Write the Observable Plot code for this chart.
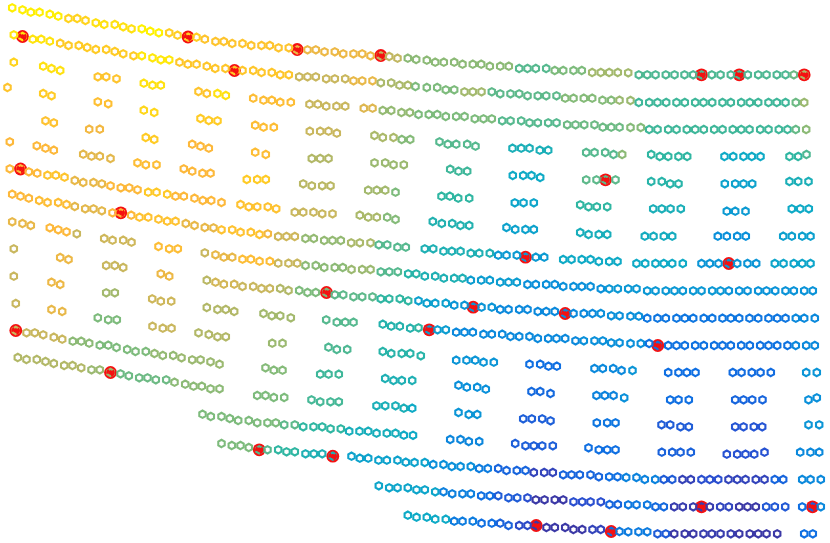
<!DOCTYPE html>
<html><head><meta charset="utf-8">
<script src="https://cdn.jsdelivr.net/npm/d3@7"></script>
<script src="https://cdn.jsdelivr.net/npm/@observablehq/plot@0.6"></script>
<style>html,body{margin:0;padding:0;background:#fff}svg{display:block}</style>
</head><body><div id="chart"></div>
<script>
// each chunk: [colour value, x,y, x,y, ...]
const rowA=[
[0.1,11.7,7.3,22,9.3,30.3,11.7,39,11.7,49.3,13.7,57.7,15.7],[0.9,68,18,76.7,18,85,20],[0.5,95.3,22.3,103.7,24,114.3,24,122.7,26.3,131,28.3],[0,141.3,28.3,149.7,30.7,158.3,32.3],[1.1,168.7,32.3,177,34.7,187.7,36.7,196,36.7],[1.5,204.3,38.7,215,41,223.3,41,231.7,43,242,43,250.7,45,261,45,269.3,45,278,47.3,288.3,47.3],[2.3,296.7,49.3,307,49.3,315.3,49.3,324,51.3,334.3,51.3,342.7,53.3,353,53.3,361.7,53.3,370,55.3],[3.1,380.3,55.3,388.7,56,397,57.7],[3.8,407.3,57.7,415.7,59,426.3,59.7,434.7,61.7,443.3,61.7,453.7,61.7,462,63.7,472.3,63.7,480.7,63.7,489.3,65.7,499.7,65.7,508.3,65.7],[4.5,518.7,68,527,68,535.3,68,545.7,68],[4,554.3,70,562.7,70,573,70,581.3,70],[3.5,591.7,72,600.3,72,608.7,72,617.3,72,627.7,72.3],[4.6,638.3,74.3,646.7,74.3,655,74.3,665.3,74.3,674,74.3,684,74.3,692.7,74.3,701,74.3,711.3,74.3,720,74.3,730.3,74.3,738.7,74.3,747.3,74.3,757.7,74.3,766,74.3,776.3,74.3,785,74.3],[4.2,793.3,74.3],[3.3,803.7,74.3]];
const rowB=[
[0.4,13.3,34.3,22,36,32.3,38.7,40.7,38.7,49.3,40.7],[1.2,59.7,42.7,68,45,78.3,45,86.7,47,95.3,49,105.7,49,114.3,51,122.7,53.3,133,55.3],[0.3,141.3,55.3,152,57.3,160.3,59.3,168.7,59.3],[1.4,179,61.7,187.3,63.7,196,63.7,206.3,65.7,214.7,68,225,68,234,70,242,70,252.7,70,261,72,271.3,72,279.7,74.3,288.3,74.3],[3,298.7,76.3,307,76.3,315.3,76.3,325.7,78.3,334.3,78.3,344.7,78.3],[2.4,353,80.3,361.7,80.3,372,80.3],[3.4,380.3,82.3,390.7,82.3,399,84.7,407.3,84.7],[4,415,86,426.3,87,436.7,87,445.3,89.3,453.7,89.3],[3.5,464,91.3,472.3,91.3,481,91.3],[4.4,491.3,91.3,499.7,93.3,510,93.3,518.7,93.3,527,95.3,537.3,95.3,545.7,95.3,556,95.3],[3.9,564.7,97.7,573,97.7,583.3,97.7,591.7,97.7,602,99.7,610.7,99.7],[3.6,619,99.7,630,100],[4.8,638.3,102,648.7,102,657,102,665.7,102,676,102,684.3,102,694.7,102,703,102,711.7,102,722,102,730.3,102,740.7,102,749.3,102,757.7,102,768,102,776.3,102,785,102],[4.2,795.3,102],[3.6,803.7,102]];
const rowC=[
[0.9,13.3,61.7],[0.5,42.7,65.7,51,68,59.7,70],[1.5,97.3,76.3,105.7,76.3,116,78.3],[0.5,143.3,82.7,152,84.7,160.3,84.7],[1.5,198,91,206.3,93],[0.5,217,93,225.3,95],[1.8,252.7,97.7,263,99.7,271.3,99.7,279.7,101.7,290.3,101.7],[3,309,103.7,317.3,103.7,325.7,105.7,336,105.7,344.7,105.7],[2.6,363.3,107.7,372,107.7],[3.7,382.3,110,390.7,110,401,112,409.3,112],[4,418,114,428.3,114,436.7,114,445.3,116,455.7,116,464,116,474.3,118.3,483,118.3,491.3,118.3],[4.5,501.7,120.3,510,120.3,520.7,120.3,529,122.3,537.3,122.3,547.7,122.3,556,122.3],[4.2,566.7,124.3,575,124.3,583.7,124.3,594,124.3,602.3,126.7,610.7,126.7,619,126.7],[3.9,630,127,640.3,127],[4.8,648.7,129,657,129,667.7,129,676,129,686.3,129,694.7,129,703.3,129,713.7,129,722,129,732.3,129,740.7,129,749,129,759.7,129,768,129,778.3,129,787,129],[4.3,795.3,129],[3.8,805.7,129]];
const rowD=[
[1.5,7,87],[1.2,42.7,93,51,95.3],[1.7,97.3,101.3,107.7,103.3],[0.8,143.3,109.7,153.7,112],[1.2,200,118,208.3,120,217,120.3],[1.8,254.7,124.7,263,126.7,273.3,126.7],[3,309.3,130.7,319.7,130.7,328,130.7,336.3,132.7],[3.4,374,135,382.3,137,393,137],[3.9,401.3,139,409.7,139],[4.5,439,141.3,447.3,143.7,455.7,143.7,466.7,143.7,475,145.7],[5.6,512,147.7,520.7,147.7,529,147.7,539.3,149.7,547.7,149.7],[4.5,585.7,152,594,152,604.7,152,613,154],[3.8,621.7,154],[5,650.7,154,659.3,156,667.7,156,678,156,686.7,156],[6,724,156,732.7,156,743,156,751.3,156,760,156],[5,789,156,797.7,156],[4.6,806,154]];
const rowE=[
[1.6,45,120.3,53.3,122.3],[2.2,88.7,128.7,99.3,128.7],[1.2,145.3,137,153.7,139],[2,191.7,143.7,200,145.7,208.3,147.7],[1.8,254.7,151.7,265.3,154],[3.3,311.3,158,319.7,158,328,158],[3.6,374,162.3,384.7,162.3,393,164.3,403.3,164.3],[4.8,449.7,168.7,458,170.7,466.7,170.7],[6,512.3,175,522.7,175,531,175,539.7,177],[4.4,585.7,179.3,596,179.3,605,179.3,615,179.3],[5.2,650.7,181,661.3,181,669.7,183.3,678,183.3],[6.3,724.3,183.3,734.7,183.3,743,183.3,751.7,183.3],[5.6,789,181,797.7,181,808,181]];
const rowF=[
[2,9.3,141.3,36.3,145.3,45,147.7,53.3,149.7],[2.5,82.7,153.7,91,155.7,99.3,155.7,110,158],[1.8,137,162.3,145.3,164.3,156,164.3],[2,183.3,168.3,191.7,170.7,202,172.7,210,172.7],[1.2,246.3,179,256.7,179,265.3,179],[3.2,302.7,183.3,311.3,185.3,321.7,185.3,330,185.3],[3.5,367.7,189.7,376.3,189.7,384.7,189.7],[4,395,191.7],[5,441,195.7,449.3,195.7,457.7,197.7,468.7,197.7],[6.2,514.3,202.3,523,202.3,533.3,202.3],[5,579.7,204.3,588,206.3,596.3,206.3,606.7,206.3],[5.6,652.7,208.3,661.3,208.3,670,208.3,680.3,208.3],[6.6,726.3,210.7,734.7,210.7,745,210.7],[6,791.3,208.3,799.7,208.3,808.3,208.3]];
const rowG=[
[2,9.3,168.3,20,168.3,28.3,171.3,36.7,172.7],[1.5,47,174.7,55.3,174.7,64,176.7],[2.4,74.3,180,82.7,182,93,182,101.3,183.3],[2,110,185.3,120.3,187.3,128.7,187.3,137,189.3],[1.3,147.7,191.7,156,191.7,166.7,193.7],[2,175,195.7,183.3,195.7,194,197.7,202.3,200,210.7,200,221,202],[1.6,240,204,248.3,206.3,256.7,206.3,267.3,206.3,275.7,208.3],[3,294.3,211.7,302.7,211.7,313,211.7,321.7,213.3,332,213.3],[3.4,359.3,214.7,367.7,216.7,376.3,216.7],[3.9,386.7,216.7,395,219],[5.4,432.3,221,441.3,223,451.7,223,460,225,468.7,225],[6.3,506,227,514.7,229,525,229,533.3,229],[5.7,579.7,232,588,234,598.3,234,606.7,234],[5.8,644.3,235.7,653,235.7,663.3,235.7,671.7,235.7],[7,717.3,235.7,726.3,235.7,736.7,235.7,745.3,235.7],[6.4,782.7,235.7,791.3,235.7,801.7,235.7,810,235.7]];
const rowH=[
[2,11.7,193.7,20,195.7,28.3,197.7],[1.8,38.7,200,47,202,57.7,202,66,204],[2.5,74.3,206,84.7,208.3,93,208.3,101.3,210.3],[2,112,212.3,120.3,212.3,130.7,214.7],[1.6,139,216.7,147.7,216.7,158,218.7,166.7,220.7,175,220.7],[2.4,185.3,223,194,225,204.3,227,213,227.3],[1.6,221,229.3,231.7,229.3,240,231.7,250.3,231.7,259,234],[2.2,267.3,233.3],[2.9,277.7,236,286,236,294.3,236],[3.7,305,238,313.3,238,323.7,240,332,240,340.3,240],[3.4,350.7,242.3,359.3,242.3,370,242.3],[4.5,378.3,244.3,386.7,244.3,397,246.7,405.3,246.7],[5.5,424.3,248.3,432.7,248.3,443,250.7,451.3,250.7,460,250.7,470.3,252.7,478.7,252.7,489.3,252.7],[6.6,497.7,254.7,506,254.7,516.3,254.7,525,256.7,535.3,256.7,543.7,256.7],[6,562.7,259,571,259,581.3,259,590,259,598.3,261,608.7,261,617,261],[6,636,263,644.7,263,655,263,663.3,263,671.7,263,682.3,263],[6.8,701,263,709.3,263,718,263,728.3,263,736.7,263,747,263,755.7,263],[6.2,774.3,263,783,263,793.3,263,801.7,263,810,263]];
const rowI=[
[2.4,11.7,221.3,22,223,30.3,225],[2,49.3,227.3,57.7,229.3,66,231.3],[3,76.3,233.3],[2.9,103.7,238,112,239.7,122.7,239.7,131,241.7],[1.8,158,246,168.7,248.3,177.3,248.3],[3,204.3,252.3],[2.4,215,254.3,223.3,256.7,231.7,256.7],[1.8,242,258.7,250.3,258.7,259,260.7,269.3,260.7],[3,277.7,262.7,288,262.7,296.7,262.7],[3.8,305,265,315.3,265,323.7,267,334.3,267,342.3,267],[3.6,351,269,361.7,269,370,269],[4.5,380.3,271.3,388.7,271.3,397.3,271.3],[5.2,407.7,273.3,415.7,273.3],[5.5,424.3,275.7,434.7,275.7,443.3,277.7,453.7,277.7,462,277.7],[6.5,470.3,279.7,480.7,279.7,489.3,279.7,499.7,281.7,508,281.7,516.3,281.7],[7,527,284,535.3,284,545.7,284,554.3,284,562.7,286,573,286,581.3,286,590,286,600.3,288.3],[6.7,608.7,288.3,617.3,288.3,627.7,288.3,636,288.3,646.7,290.3,655,290.3,665.3,290.3,674,290.3,682.3,290.3,692.7,290.3,701,290.3,711.7,290.3,720,290.3],[6.9,728.3,290.3,738.7,290.3,747,290.3,757.7,290.3,766,290.3,774.7,290.3,785,290.3,793.3,290.3,803.7,290.3,812.3,290.3]];
const rowJ=[
[3,13.3,248.3],[2.3,59.7,257,68,259],[3,105.7,265,114.3,265,122.7,267],[2.3,160.3,273.3,168.7,275.7],[3.2,206.3,279.7],[2.8,215,281.7,223.3,283.7,233.7,283.7],[3,242,286,252.7,286,261,288,269.3,288],[3.3,279.7,288,288,290],[4,298.7,290,307,292,315.3,292,326,292],[4.4,334.3,294.3,342.7,294.3,353,296.3,361.7,296.3,372,296.3],[5,380.3,298.3,388.7,298.3,399.3,298.3,407.7,300.3],[6.4,418,300.3,426.3,302.7,434.7,302.7,445.3,302.7],[6.8,453.7,304.7,464,304.7,472.7,306.7,481,306.7,491.3,306.7],[7.2,499.7,309,508,309,518.7,309,527,309,537.3,311,545.7,311,554.3,311,564.7,313,573,313,583.3,313,592,313],[7,600.3,313,610.7,315.3,619,315.3,630,315.7,638.3,315.7],[7.8,646.7,317.7,657,317.7,665.3,317.7,676,317.7,684.3,317.7,692.7,317.7,703.3,317.7,711.7,317.7,722,317.7,730.3,317.7,738.7,317.7,749,317.7,757.7,317.7,768,317.7,776.7,317.7,785,317.7],[7.2,795.3,317.7,803.7,317.7,814.3,317.7]];
const rowK=[
[3,13.3,275.7],[2.3,51,281.7,59.7,284],[3.5,105.7,292.3,114.3,292.3],[2.9,151.7,298.3,160.3,300.7,170.7,300.7],[3.3,206.3,307,217,309,225.3,309,233.7,311],[3.5,263,313,271.3,315.3,279.7,315.3,290.3,317.3],[4.5,325.7,319.3,336.3,321.7,344.7,321.7,353,321.7],[5.3,382.3,323.7,390.7,325.7,399.3,325.7,409.7,327.7],[5,418,327.3],[6.5,428.7,329.3,437,329.3,445.3,329.3],[7.2,455.7,331.7,464,331.7,472.3,331.7,483,333.7,491.3,333.7,501.7,333.7,510,336,518.7,336,529,336,537.3,338,547.7,338,556,338,564.7,338,575,340.3],[7,583.3,340.3,594,340.3,602.3,340.3,610.7,342.3,619,342.3,630,343,640.3,343],[7.9,648.7,343,657.3,345,667.7,345,676,345,684.3,345,694.7,345,703.3,345,713.7,345,722,345,730.3,345,740.7,345,749.3,345,759.7,345,768,345,776.7,345,787,345],[7.2,795.3,345,805.7,345,814.3,345]];
const rowL=[
[3,15.3,303],[2.4,51,309,61.7,311],[4,97.3,317.3,107.7,319.3,116.3,319.3],[3,152,325.7,162.3,327.7,171,327.7],[3.3,198,332.3,208.3,334,217,336.3,225.3,336.3],[3.6,271.7,342.7,282,342.7],[4.6,328,346.7,336.3,349,346.7,349],[5.2,382.3,351,390.7,353,401.3,353,409.7,353,420.3,355.3],[6.8,455.7,359.7,466,359.7,474.7,359.7,483,361.7,493.3,361.7],[8,529,363.7,539.7,363.7,548,365.7,556.3,365.7],[7.2,594,368,602.3,368,612.7,368,621,370],[6.8,632,370],[8,667.7,372,678,372,686.3,372,695,372],[8.1,732.3,372,741,372,751.3,372,760,372,770.3,372],[6.8,805.7,372,816.3,372]];
const rowM=[
[3,15.3,330,26,332.3,34.3,332.3,42.7,334.3,53.3,336.7,61.7,338.7],[3.8,72.3,340.7,80.7,340.7,88.7,342.7],[4,99.3,344.7,107.7,344.7,116,347,126.7,349,135,351,145.3,351],[3.7,154,353,162.3,355,172.7,355],[3.6,181,357.3,191.7,359.3,200,359.3,210,361.3,219,363.7],[3.9,265,367.3,273.3,369.7,282,369.7],[4.8,319.7,373.7,328,373.7,338.3,373.7],[5.5,384.7,378,393,380,401.3,380,411.7,380],[7,458,384.7,466.3,386.7,476.7,386.7,485.3,388.7],[8.2,531,391,539.7,391,550,393],[7.4,596,395,604.3,395,613,395],[7,623.7,397.3],[8,669.7,399.3,678,399.3,688.3,399.3],[8.3,734.7,399.3,743,399.3,751.7,399.3,762,399.3],[7,808,399.3,816.3,397.3]];
const rowN=[
[3.3,17.3,357,26,359,36.3,359,45,361,53.3,363,63.7,365,72,365,80.7,367.3],[3.6,91,369.3,99.3,369.3,110,372],[4.2,120,373.3,128.3,375.3,138.7,377.3,147,377.3,155.3,379.3,165.7,379.3],[3.8,174,381.7,184.7,383.7,193,385.7,201.3,385.7,210,388.3,219,388.3],[4,256.7,395,265,395,273.3,397,283.7,397],[4.7,311,399.3,319.7,401.3,330,401.3,338.3,401.3],[5.6,376,405.3,384.7,405.3,395,405.3,403.3,407.7],[6,411.7,407.7],[6.8,458,412,468.3,414,476.7,414],[8.5,522.7,418.3,531.3,418.3,541.7,418.3,550,420.3],[7.8,596.3,422.3,606.7,422.3,615,422.3],[8.6,661,424.3,669.7,424.3,680,426.3,688.3,426.3],[8.8,734.7,426.3,743,426.3,753.3,426.3,761.7,426.3],[6.8,808,424.3,818.7,424.3]];
const rowO=[
[4,202,413.7,210.3,416,221,416,229.3,418,237.7,420,248.3,420,256.7,422.3,267,422.3,275.3,422.3],[4.4,283.7,424.3,294.3,424.3],[5,302.7,426.3,313,426.3,321.7,426.3,330,428.3,340.3,428.3],[5.7,348.7,430.7,359,430.7,367.7,430.7,376,432.7,386.3,432.7,395,432.7],[6,403.3,434.7,412.5,434.8],[7.3,449.7,439,460,439,468.3,441,478.7,441],[8.5,514.7,443,525,445.3,533.3,445.3,541.7,445.3,552.3,445.3],[8,588,447.3,598.3,449.3,606.7,449.3,615,449.3],[8.4,661.3,451.7,671.7,451.7,680,451.7,690.3,451.7],[8.9,726.3,453.7,736.7,453.7,745,453.7,753.7,453.7,764,451.7],[7.2,799.7,451.7,810,451.7,818.7,451.7]];
const rowP=[
[4,221,443,231.3,445,240,445,248.3,447],[4.5,258.7,449.3,267,449.3],[5,277.7,449.3,286,451.3,294.3,451.3],[5.5,305,453.3,313.3,453.3,321.7,453.3,332.3,455.7],[6.3,351,455.7,359.3,457.7,367.7,457.7,378,459.7,386.3,459.7,397,459.7,405.3,461.7,414,462,424.3,462],[7,432.7,464,443,464,451.3,466,460,466,470.3,466],[7.6,478.7,468,487.3,468],[8.3,497.7,468,506,470,516.3,470,525,470],[9.5,533.3,472,543.7,472,552.3,472],[8.3,562.7,474.3,571,474.3,579.3,474.3,590,474.3,598.3,476.3],[8,608.7,476.3,617,476.3],[7.4,625.7,477,636,477,644.3,479,654.7,479],[8.6,663.3,479,671.7,479],[9.6,682,479,690.3,479],[9,701,479,709.3,479,717.7,479],[9.5,728,479,736.7,479,745,479,755.3,479,764,479],[8.3,774.3,479,782.7,479],[7.2,801.7,479,810,479,820.3,479]];
const rowQ=[
[6.2,378.3,485.3,388.7,487.3,397,487.3,407.3,487.3,416,489.3,424.3,489.3,434.7,491.3],[7.5,443,491.3,451.7,493.3,462,493.3,470.3,493.3],[8,480.7,495.3,489.3,495.3],[8.6,497.7,495.3,508,497.3,516.7,497.3],[9,527,497.3],[10,535.3,499.3,544,499.3,554.3,499.3,562.7,499.3],[9,573,501.3,581.7,501.3,590,501.3,600.3,501.3],[8.3,609,504,617.3,504],[7.7,627.7,504.3,636,504.3,646.7,504.3],[8.2,655,506.3,663.3,506.3],[9.8,673.7,506.3,682.3,506.3,692.7,506.3,701,506.3,709.3,506.3],[9.4,719.7,506.3,728.3,506.3],[10,738.7,506.3,747,506.3,755.3,506.3],[8.7,765.7,506.3,774.3,506.3,784.7,506.3],[8,801.7,506.3],[8.5,812,506.3],[7.2,820.3,506.3]];
const rowR=[
[6,407.3,514.7,416,516.7,426.3,516.7,434.7,518.7,445.3,518.7],[7.6,453.7,520.7,462,520.7,472.3,520.7],[8,481,522.7,491.3,522.7],[8.4,499.7,522.7,508,525],[9.2,518.7,525,527,525],[10,535.7,525,546,527,554.3,527,564.7,527,573,529,581.7,529],[9.5,592,529,600.3,529],[8,610.7,531],[7.6,619,531,627.7,531.3,638,531.3,646.7,531.3],[8.6,657,533.3,665.3,533.3],[10,673.7,533.3,684.3,533.3,692.7,533.3],[9.8,703,533.3,711.3,533.3,720,533.3,730.3,533.3],[10,738.7,533.3,749.3,533.3,757.7,533.3,766,533.3,776.7,533.3],[8,803.7,533.3,812.3,533.3]];
const markedX=[22,187.5,296.7,380.3,234,701,738.7,803.7,605,20,120.3,525,728.3,326,472.7,564.7,428.7,657.3,15.3,110,258.7,332.3,701,812,535.7,610.7];
const markedY=[36,36.5,49,55,70,74.3,74.3,74.3,179.3,168.5,212.3,256.7,263,292,306.7,313,329.3,345,330,372,449.3,455.7,506.3,506.3,525,531];
const colourValues=[0,1,2,3,4,5,6,7,8,9,10];
const colourRange=["#fff200","#ffd020","#fdb83a","#c9b75e","#7dbb7c","#2fb6a2","#0eaac6","#0a90da","#0f6fe2","#2a4fd0","#3b38a6"];

const rows=[rowA,rowB,rowC,rowD,rowE,rowF,rowG,rowH,rowI,rowJ,rowK,rowL,rowM,rowN,rowO,rowP,rowQ,rowR];
const points=[];
for(const row of rows)for(const c of row)for(let i=1;i<c.length;i+=2)points.push({v:c[0],x:c[i],y:c[i+1]});
const marked=markedX.map((x,i)=>({x,y:markedY[i]}));

const chart=Plot.plot({
  width:830,height:543,margin:0,
  x:{domain:[0,830],axis:null},
  y:{domain:[543,0],axis:null},
  color:{type:"linear",domain:colourValues,range:colourRange,interpolate:"rgb"},
  marks:[
    Plot.dot(marked,{x:"x",y:"y",r:6.4,fill:"#f51010",stroke:"none"}),
    Plot.dot(points,{x:"x",y:"y",symbol:"hexagon",r:3.2,fill:"none",stroke:"v",strokeWidth:2.1}),
    Plot.dot(marked,{x:"x",y:"y",r:3,fill:"none",stroke:"#f51010",strokeWidth:2.4,strokeDasharray:"4 4"})
  ]
});
document.getElementById("chart").appendChild(chart);
</script></body></html>
